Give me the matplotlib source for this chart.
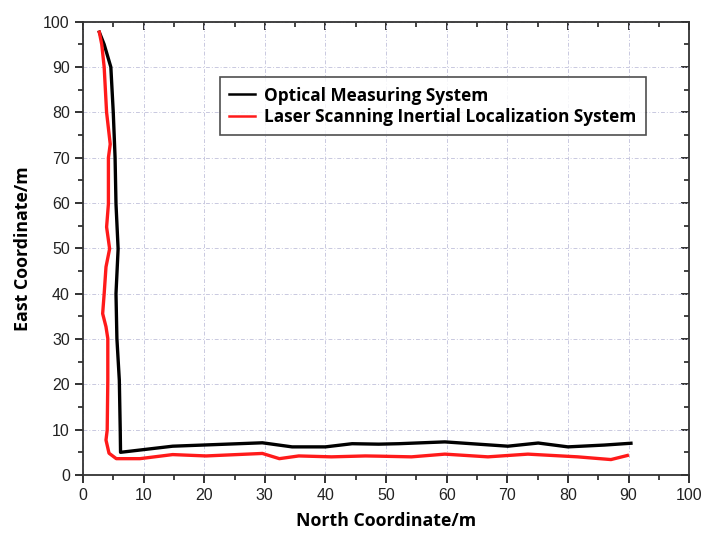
import numpy as np
import matplotlib.pyplot as plt
from matplotlib.ticker import MultipleLocator

# data
optical_north = [2.7, 3.5, 4.6, 5.0, 5.3, 5.45, 5.8, 5.45, 5.6, 6.0, 6.15, 6.2,
                 14.8, 29.6, 34.5, 40.0, 44.4, 48.8, 52.1, 59.7, 70.1, 75.1,
                 80.0, 86.0, 90.4]
optical_east = [97.7, 95.0, 90.0, 80.0, 70.0, 59.8, 49.9, 40.0, 30.1, 20.9, 9.9,
                5.0, 6.35, 7.1, 6.2, 6.2, 6.9, 6.8, 6.9, 7.3, 6.35, 7.05,
                6.2, 6.6, 7.0]

laser_north = [2.7, 3.1, 3.5, 3.9, 4.5, 4.2, 4.2, 3.9, 4.4, 3.8, 3.5, 3.25, 3.8,
               4.1, 4.1, 4.0, 3.8, 4.3, 5.5, 9.4, 14.8, 20.3, 29.6, 32.4, 35.6,
               41.0, 46.6, 48.8, 54.2, 59.7, 66.8, 73.4, 81.6, 87.1, 89.8]
laser_east = [97.7, 95.0, 90.0, 80.0, 73.0, 70.0, 59.8, 54.7, 49.9, 45.9, 40.0,
              35.6, 32.7, 30.1, 20.9, 9.9, 7.7, 4.8, 3.6, 3.6, 4.5, 4.2, 4.75,
              3.6, 4.2, 4.0, 4.2, 4.15, 4.0, 4.6, 4.0, 4.6, 4.0, 3.4, 4.3]

series_labels = ["Optical Measuring System",
                 "Laser Scanning Inertial Localization System"]

plt.rcParams["font.family"] = ["Liberation Sans", "DejaVu Sans"]

fig = plt.figure(figsize=(7.09, 5.37), dpi=100)
ax = fig.add_axes([0.117, 0.1155, 0.855, 0.844])

ax.plot(optical_north, optical_east, color="black", lw=2.4,
        label=series_labels[0], zorder=3)
ax.plot(laser_north, laser_east, color="#ff1a1a", lw=2.4,
        label=series_labels[1], zorder=3)

ax.set_xlim(0, 100)
ax.set_ylim(0, 100)
ax.xaxis.set_major_locator(MultipleLocator(10))
ax.yaxis.set_major_locator(MultipleLocator(10))
ax.xaxis.set_minor_locator(MultipleLocator(5))
ax.yaxis.set_minor_locator(MultipleLocator(5))

ax.grid(True, which="major", color="#c9c9e0", lw=0.7, ls=(0, (4, 2, 1, 2)))
ax.set_axisbelow(True)

for s in ax.spines.values():
    s.set_linewidth(1.3)
    s.set_color("#333333")

ax.tick_params(which="major", direction="out", length=6, width=1.3,
               labelsize=11.5, colors="#222222")
ax.tick_params(which="minor", direction="out", length=3.5, width=1.2,
               colors="#222222")

# inward ticks on top and right like the original
for side in ("top", "right"):
    twin = ax.secondary_xaxis("top") if side == "top" else ax.secondary_yaxis("right")
    axis = twin.xaxis if side == "top" else twin.yaxis
    axis.set_major_locator(MultipleLocator(10))
    axis.set_minor_locator(MultipleLocator(5))
    twin.tick_params(which="major", direction="in", length=6, width=1.3,
                     labelleft=False, labelright=False, labeltop=False,
                     colors="#222222")
    twin.tick_params(which="minor", direction="in", length=3.5, width=1.2,
                     colors="#222222")
    for s in twin.spines.values():
        s.set_visible(False)

label_font = {"family": "Open Sans", "weight": "bold", "size": 12.8}
ax.set_xlabel("North Coordinate/m", fontdict=label_font, labelpad=6)
ax.set_ylabel("East Coordinate/m", fontdict=label_font, labelpad=8)

leg = ax.legend(loc="upper left", bbox_to_anchor=(0.226, 0.878),
                prop={"family": "Open Sans", "weight": "bold", "size": 12.4},
                frameon=True, fancybox=False, edgecolor="#222222",
                handlelength=1.5, handletextpad=0.5, borderpad=0.55,
                labelspacing=0.2, borderaxespad=0)
leg.get_frame().set_linewidth(1.2)
for line in leg.get_lines():
    line.set_linewidth(1.8)

fig.savefig("out.png", dpi=100)
